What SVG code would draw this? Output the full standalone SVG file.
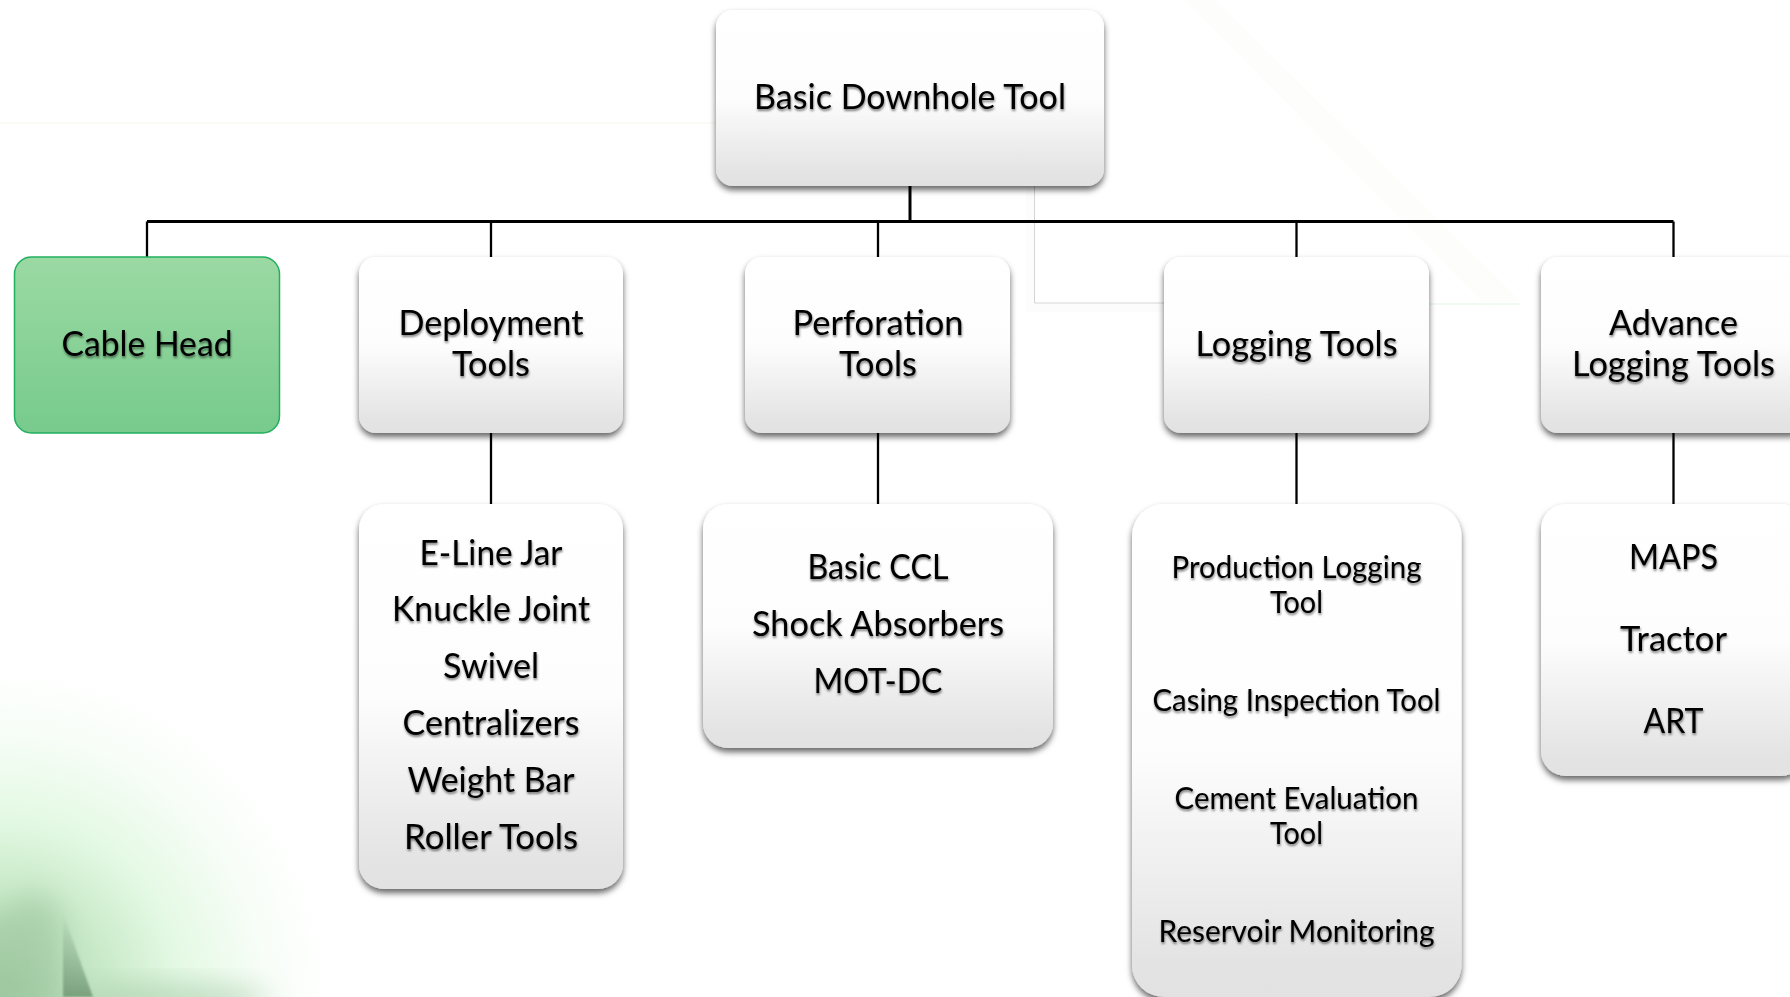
<svg xmlns="http://www.w3.org/2000/svg" width="1790" height="997" viewBox="0 0 1790 997">
<style>
.box{fill:url(#boxFill);filter:url(#boxShadow)}
.green{fill:url(#greenFill);stroke:#22b060;stroke-width:1.5}
.t{font-family:Lato,"Liberation Sans",sans-serif;fill:#000;text-anchor:middle;font-size:35px;filter:url(#textShadow)}
.s{font-size:31px}
.c{fill:none;stroke:#000;stroke-width:2.3}
.m{fill:none;stroke:#000;stroke-width:3}
.f{fill:none;stroke:#d4d4d4;stroke-width:1}
</style>
<defs>
<linearGradient id="boxFill" x1="0" y1="0" x2="0" y2="1">
<stop offset="0" stop-color="#fff"/><stop offset="0.5" stop-color="#fdfdfd"/><stop offset="0.92" stop-color="#e4e4e4"/><stop offset="1" stop-color="#e2e2e2"/>
</linearGradient>
<linearGradient id="greenFill" x1="0" y1="0" x2="0" y2="1">
<stop offset="0" stop-color="#9bd9a3"/><stop offset="1" stop-color="#77cb8c"/>
</linearGradient>
<radialGradient id="glow" gradientUnits="userSpaceOnUse" cx="0" cy="997" r="330">
<stop offset="0" stop-color="#a8d4aa"/><stop offset="0.3" stop-color="#c6e8c6"/><stop offset="0.55" stop-color="#e4f9e4"/><stop offset="0.8" stop-color="#f7fdf7"/><stop offset="1" stop-color="#fff"/>
</radialGradient>
<linearGradient id="shard" x1="0" y1="0" x2="0" y2="1">
<stop offset="0" stop-color="#7c9f80" stop-opacity="0"/><stop offset="1" stop-color="#6f9672" stop-opacity="0.85"/>
</linearGradient>
<filter id="boxShadow" x="-10%" y="-10%" width="120%" height="120%">
<feDropShadow dx="0" dy="4" stdDeviation="3" flood-color="#000" flood-opacity="0.6"/>
</filter>
<filter id="textShadow" x="-10%" y="-20%" width="120%" height="150%">
<feDropShadow dx="0.5" dy="2" stdDeviation="1" flood-color="#000" flood-opacity="0.5"/>
</filter>
<filter id="soft" x="-50%" y="-50%" width="200%" height="200%"><feGaussianBlur stdDeviation="14"/></filter>
<filter id="softer" x="-50%" y="-50%" width="200%" height="200%"><feGaussianBlur stdDeviation="1"/></filter>
</defs>
<rect width="1790" height="997" fill="#fff"/>
<g id="background">
<rect x="0" y="660" width="340" height="337" fill="url(#glow)"/>
<polygon points="-30,925 40,890 63,915 63,1020 -30,1020" fill="#8db58e" opacity="0.4" filter="url(#soft)"/>
<ellipse cx="170" cy="1000" rx="100" ry="16" fill="#a3c8a5" opacity="0.6" filter="url(#soft)"/>
<polygon points="63,913 93,997 63,997" fill="url(#shard)" filter="url(#softer)"/>
<rect x="0" y="122" width="716" height="2" fill="#fbfbf6"/>
<polygon points="1185,0 1215,0 1520,300 1490,310" fill="#fdfefc"/>
<path d="M1030,186V308H1164" fill="none" stroke="#fcfcfc" stroke-width="8"/>
<path class="f" d="M1034.500,186V303H1164"/>
<rect x="1430" y="303" width="90" height="2" fill="#f0faf0"/>
</g>
<g id="connectors">
<path class="m" d="M910,186V221.500"/>
<path class="m" d="M147,221.500H1673.500"/>
<path class="c" d="M147,221.500V257M1673.500,221.500V257M491,221.500V257M878,221.500V257M1296.500,221.500V257"/>
<path class="c" d="M491,433V504M878,433V504M1296.500,433V504M1673.500,433V504"/>
</g>
<g id="node-root">
<rect class="box" x="716" y="10" width="388" height="176" rx="17"/>
<text class="t" x="910" y="109" textLength="312" lengthAdjust="spacingAndGlyphs">Basic Downhole Tool</text>
</g>
<g id="node-cable-head">
<rect class="green" x="14.500" y="257" width="265" height="176" rx="17"/>
<text class="t" x="147" y="356" textLength="171" lengthAdjust="spacingAndGlyphs">Cable Head</text>
</g>
<g id="node-deployment">
<rect class="box" x="359" y="257" width="264" height="176" rx="17"/>
<text class="t" x="491" y="335" textLength="185" lengthAdjust="spacingAndGlyphs">Deployment</text>
<text class="t" x="491" y="376" textLength="78" lengthAdjust="spacingAndGlyphs">Tools</text>
</g>
<g id="node-perforation">
<rect class="box" x="745" y="257" width="265" height="176" rx="17"/>
<text class="t" x="878" y="335" textLength="171" lengthAdjust="spacingAndGlyphs">Perforation</text>
<text class="t" x="878" y="376" textLength="78" lengthAdjust="spacingAndGlyphs">Tools</text>
</g>
<g id="node-logging">
<rect class="box" x="1164" y="257" width="265" height="176" rx="17"/>
<text class="t" x="1296.500" y="356" textLength="202" lengthAdjust="spacingAndGlyphs">Logging Tools</text>
</g>
<g id="node-advance">
<rect class="box" x="1541" y="257" width="265" height="176" rx="17"/>
<text class="t" x="1673.500" y="335" textLength="129" lengthAdjust="spacingAndGlyphs">Advance</text>
<text class="t" x="1673.500" y="376" textLength="203" lengthAdjust="spacingAndGlyphs">Logging Tools</text>
</g>
<g id="node-deployment-list">
<rect class="box" x="359" y="504" width="264" height="385" rx="25"/>
<text class="t" x="491" y="565" textLength="143" lengthAdjust="spacingAndGlyphs">E-Line Jar</text>
<text class="t" x="491" y="621" textLength="198" lengthAdjust="spacingAndGlyphs">Knuckle Joint</text>
<text class="t" x="491" y="678" textLength="96" lengthAdjust="spacingAndGlyphs">Swivel</text>
<text class="t" x="491" y="735" textLength="177" lengthAdjust="spacingAndGlyphs">Centralizers</text>
<text class="t" x="491" y="792" textLength="167" lengthAdjust="spacingAndGlyphs">Weight Bar</text>
<text class="t" x="491" y="849" textLength="174" lengthAdjust="spacingAndGlyphs">Roller Tools</text>
</g>
<g id="node-perforation-list">
<rect class="box" x="703" y="504" width="350" height="244" rx="25"/>
<text class="t" x="878" y="579" textLength="141" lengthAdjust="spacingAndGlyphs">Basic CCL</text>
<text class="t" x="878" y="636" textLength="252" lengthAdjust="spacingAndGlyphs">Shock Absorbers</text>
<text class="t" x="878" y="693" textLength="129" lengthAdjust="spacingAndGlyphs">MOT-DC</text>
</g>
<g id="node-logging-list">
<rect class="box" x="1132" y="504" width="329.500" height="493" rx="32"/>
<text class="t s" x="1296.500" y="578" textLength="250" lengthAdjust="spacingAndGlyphs">Production Logging</text>
<text class="t s" x="1296.500" y="613" textLength="53" lengthAdjust="spacingAndGlyphs">Tool</text>
<text class="t s" x="1296.500" y="711" textLength="288" lengthAdjust="spacingAndGlyphs">Casing Inspection Tool</text>
<text class="t s" x="1296.500" y="809" textLength="244" lengthAdjust="spacingAndGlyphs">Cement Evaluation</text>
<text class="t s" x="1296.500" y="844" textLength="53" lengthAdjust="spacingAndGlyphs">Tool</text>
<text class="t s" x="1296.500" y="942" textLength="276" lengthAdjust="spacingAndGlyphs">Reservoir Monitoring</text>
</g>
<g id="node-advance-list">
<rect class="box" x="1541" y="504" width="265" height="272" rx="25"/>
<text class="t" x="1673.500" y="569" textLength="89" lengthAdjust="spacingAndGlyphs">MAPS</text>
<text class="t" x="1673.500" y="651" textLength="107" lengthAdjust="spacingAndGlyphs">Tractor</text>
<text class="t" x="1673.500" y="733" textLength="60" lengthAdjust="spacingAndGlyphs">ART</text>
</g>
</svg>
